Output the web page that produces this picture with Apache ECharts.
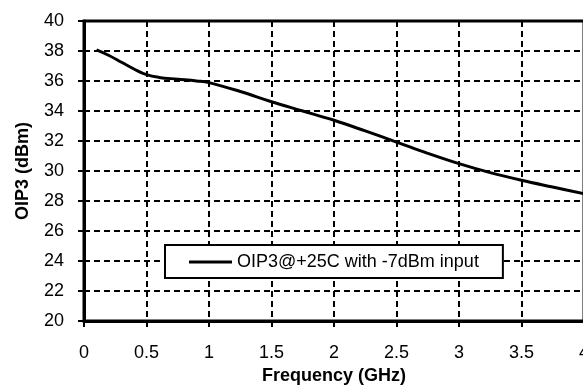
<!DOCTYPE html>
<html>
<head>
<meta charset="utf-8">
<script src="https://cdn.jsdelivr.net/npm/echarts@6/dist/echarts.min.js"></script>
<style>
  html, body { margin: 0; padding: 0; background: #fff; }
  #chart { width: 583px; height: 386px; }
</style>
</head>
<body>
<div id="chart"></div>
<script>
// frequency points (GHz) and OIP3 readings (dBm)
var freqGHz = [0.1, 0.2, 0.3, 0.4, 0.5, 0.6, 0.75, 0.9, 1.0, 1.25, 1.5, 1.75, 2.0, 2.25, 2.5, 2.75, 3.0, 3.25, 3.5, 3.75, 4.0];
var oip3 = [38.07, 37.7, 37.25, 36.8, 36.42, 36.24, 36.12, 36.0, 35.89, 35.3, 34.62, 34.0, 33.38, 32.67, 31.93, 31.18, 30.49, 29.89, 29.38, 28.93, 28.49];
var seriesName = 'OIP3@+25C with -7dBm input';

var font = "'Liberation Sans', Arial, sans-serif";

var chart = echarts.init(document.getElementById('chart'));

var points = freqGHz.map(function (f, i) {
    return [f, oip3[i]];
});

chart.setOption({
    animation: false,
    backgroundColor: '#fff',
    grid: {
        left: 84,
        top: 21,
        width: 500,
        height: 300,
        outerBoundsMode: 'none',
        containLabel: false,
        show: true,
        borderColor: '#000',
        borderWidth: 3
    },
    legend: {
        left: 165,
        top: 245,
        padding: [8, 24, 7, 24],
        backgroundColor: '#fff',
        borderColor: '#000',
        borderWidth: 2,
        borderRadius: 0,
        icon: 'rect',
        itemWidth: 43,
        itemHeight: 3,
        textStyle: { fontFamily: font, fontSize: 18, color: '#000' },
        data: [seriesName]
    },
    xAxis: {
        type: 'value',
        min: 0,
        max: 4,
        interval: 0.5,
        name: 'Frequency (GHz)',
        nameLocation: 'middle',
        nameGap: 45,
        nameTextStyle: { fontFamily: font, fontSize: 18, fontWeight: 'bold', color: '#000' },
        axisLine: { show: true, onZero: false, lineStyle: { color: '#000', width: 3 } },
        axisTick: { show: true, length: 6, lineStyle: { color: '#000', width: 2 } },
        axisLabel: { fontFamily: font, fontSize: 18, color: '#000', margin: 23 },
        splitLine: { show: true, lineStyle: { color: '#000', width: 2, type: [6, 4] } }
    },
    yAxis: {
        type: 'value',
        min: 20,
        max: 40,
        interval: 2,
        name: 'OIP3 (dBm)',
        nameLocation: 'middle',
        nameGap: 52,
        nameTextStyle: { fontFamily: font, fontSize: 18, fontWeight: 'bold', color: '#000' },
        axisLine: { show: true, lineStyle: { color: '#000', width: 3 } },
        axisTick: { show: true, length: 6, lineStyle: { color: '#000', width: 2 } },
        axisLabel: { fontFamily: font, fontSize: 18, color: '#000', margin: 20 },
        splitLine: { show: true, lineStyle: { color: '#000', width: 2, type: [6, 4] } }
    },
    series: [{
        name: seriesName,
        type: 'line',
        data: points,
        smooth: 0.4,
        symbol: 'none',
        lineStyle: { color: '#000', width: 3 },
        itemStyle: { color: '#000' },
        z: 3
    }]
});
</script>
</body>
</html>
